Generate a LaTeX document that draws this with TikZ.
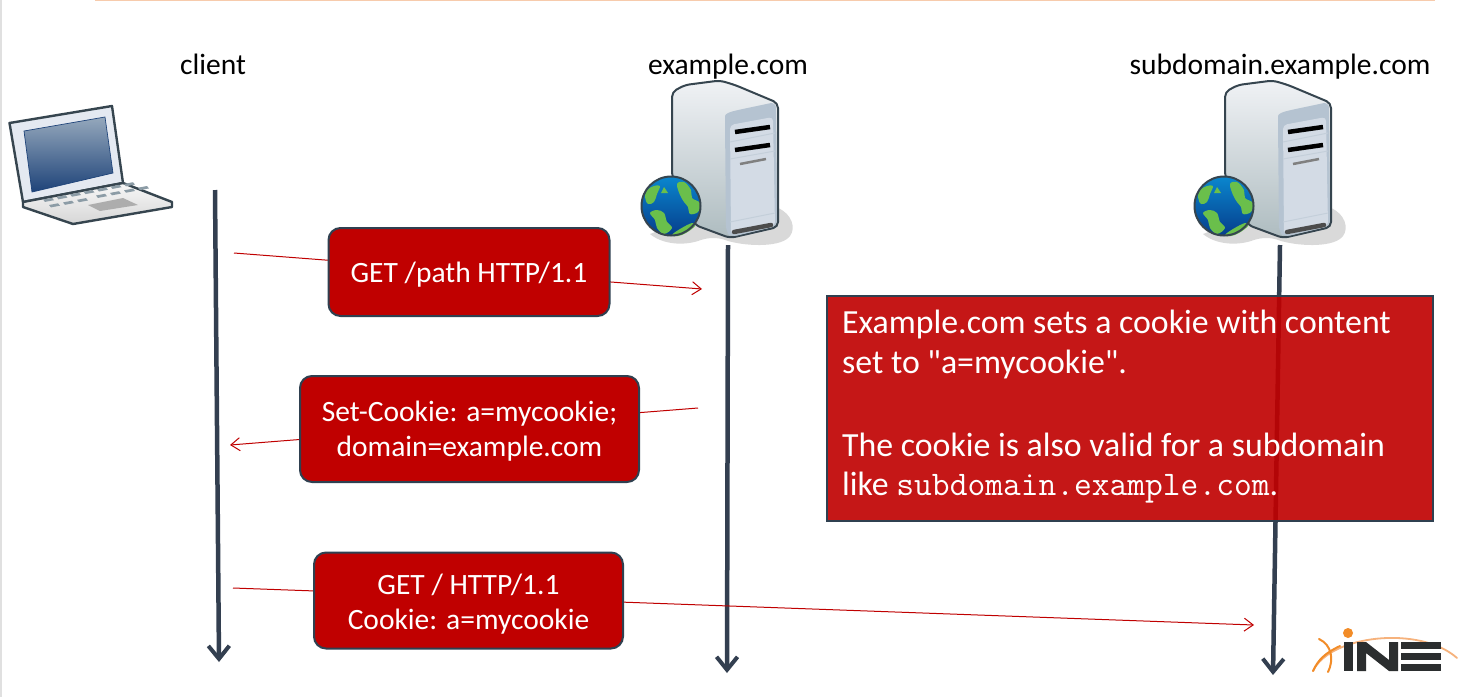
\documentclass[tikz,border=0pt]{standalone}
\usepackage{fontspec}
\setmainfont{Carlito}
\newfontfamily\plainquotes{Carlito}
\usetikzlibrary{arrows.meta}
\definecolor{lifeln}{HTML}{333F50}
\definecolor{msgred}{HTML}{C00000}
\definecolor{edgeblue}{HTML}{2F4050}
\definecolor{frameink}{HTML}{36454F}
\definecolor{oline}{HTML}{F7CBAC}
\definecolor{ineorange}{HTML}{F28C28}
\definecolor{inearc}{HTML}{F6B27C}
\definecolor{inedark}{HTML}{2B2E2F}
\definecolor{land}{HTML}{6ABF4B}
\definecolor{oceantop}{HTML}{0A86CE}
\definecolor{oceanlow}{HTML}{063E8C}
\definecolor{towertop}{HTML}{F0F2F5}
\definecolor{towerlow}{HTML}{AEBCC0}
\definecolor{panelback}{HTML}{B5C3D1}
\definecolor{panelface}{HTML}{D3DBE5}
\definecolor{lidface}{HTML}{E4E9F1}
\definecolor{screentop}{HTML}{95A8BC}
\definecolor{screenlow}{HTML}{1E4379}
\definecolor{keycap}{HTML}{8C9CA6}
\tikzset{
  x=1pt,y=-1pt,
  lifeline/.style={draw=lifeln,line width=4.5pt,-{Straight Barb[length=13pt,width=21pt,line width=4pt]}},
  message/.style={draw=msgred,line width=1pt,-{Straight Barb[length=9pt,width=13pt,line width=1pt]}},
  msgbox/.style={draw=edgeblue,line width=2pt,fill=msgred,rounded corners=12pt,text=white,align=center,font=\fontsize{29.5}{35}\selectfont,inner sep=0pt},
  actor/.style={font=\fontsize{29.5}{32}\selectfont,text=black,anchor=base},
  notebox/.style={draw=edgeblue,line width=2pt,fill=msgred,fill opacity=.91,draw opacity=1,text opacity=1,anchor=north west,inner sep=0pt,minimum width=606pt,minimum height=225pt},
  notetext/.style={text=white,anchor=base west,font=\plainquotes\fontsize{33.8}{38}\selectfont,inner sep=0pt},
  towerart/.pic={
    % ground shadow
    \fill[black!15] (778,208) .. controls (792,214) and (796,228) .. (790,236)
       .. controls (782,247) and (750,247) .. (728,241) .. controls (716,236) and (706,238) .. (698,241)
       .. controls (682,246) and (662,244) .. (650,234) -- (700,215) -- cycle;
    % tower body
    \shade[top color=towertop,bottom color=towerlow,draw=frameink,line width=2pt,rounded corners=5pt]
       (672,176) -- (672,92) -- (685,85) -- (720,80.5) -- (735,85) -- (778,103) -- (778,227) -- (730,238) -- (695,225) -- cycle;
    % front panel
    \fill[panelback,rounded corners=6pt] (725,122) .. controls (725,114) and (730,112) .. (738,110)
       -- (776,102) -- (777,226) -- (731,237) -- (726,232) -- cycle;
    \fill[panelface,rounded corners=4pt] (730,125) -- (773,117) -- (775,226) -- (731,235) -- cycle;
    \draw[black,line width=4.5pt] (735,132) -- (770,127);
    \draw[black,line width=4.5pt] (735,150) -- (770,145);
    \draw[panelback!80!white,line width=1pt] (730,142) -- (775,133) (730,159) -- (775,151) (730,222) -- (775,213);
    \draw[black!50,line width=2.5pt] (740,164) -- (766,159);
    \draw[black!70,line width=4.5pt,line cap=round] (734,232) -- (771,225);
    % globe with its land masses
    \shade[top color=oceantop,bottom color=oceanlow] (671,206) circle (29.5pt);
    \fill[land] plot[smooth cycle,tension=.6] coordinates {(677,184) (684,182) (691,190) (692,198) (700,203) (698,212) (690,214) (688,207) (684,202) (680,195)};
    \fill[land] plot[smooth cycle,tension=.6] coordinates {(647,190) (654,186) (660,186) (657,194) (654,202) (648,204) (645,197)};
    \fill[land] plot[smooth cycle,tension=.6] coordinates {(650,213) (657,210) (664,213) (667,222) (672,228) (664,234) (657,228) (655,220)};
    \fill[land] plot[smooth cycle,tension=.6] coordinates {(672,235) (680,229) (692,223) (695,226) (686,233) (678,236)};
    \fill[land] (664,187) -- (668,193) -- (661,193) -- cycle;
    \draw[frameink,line width=2pt] (671,206) circle (29.5pt);
  }
}
\begin{document}
\begin{tikzpicture}
\useasboundingbox (0,0) rectangle (1472,697);
% slide edge and title rule
\fill[white] (0,0) rectangle (1472,697);
\fill[black!12] (0,0) rectangle (2,697);
\draw[oline,line width=1.5pt] (95,0) -- (1435,0);

% laptop
\fill[lidface,draw=frameink,line width=2.4pt,line join=round] (9.5,123) -- (112,106) -- (123,183) -- (23,202) -- cycle;
\shade[top color=screentop,bottom color=screenlow,draw=screenlow,line width=.7pt] (24,131) -- (105,117) -- (113,173) -- (32,192) -- cycle;
\shade[top color=black!3,bottom color=black!16,draw=frameink,line width=2.4pt,line join=round]
  (23,202) -- (123,183) -- (172,202) -- (172,207) -- (73,224) -- (23,207) -- cycle;
\fill[black!32] (88,205) -- (123,198) -- (138,205) -- (100,211) -- cycle;
\foreach \i in {0,...,6}{
  \fill[keycap] (43+\i*13.5,199.5-\i*2.6) -- ++(9,-1.7) -- ++(2,2.4) -- ++(-9,1.7) -- cycle;
}
\foreach \i in {0,1,2}{
  \fill[keycap] (49+\i*14,205-\i*2.6) -- ++(9,-1.7) -- ++(2,2.4) -- ++(-9,1.7) -- cycle;
}
\foreach \i in {0,1,2,3}{
  \fill[keycap] (96+\i*14,195.5-\i*2.6) -- ++(9,-1.7) -- ++(2,2.4) -- ++(-9,1.7) -- cycle;
}

% servers
\path (0,0) pic {towerart};
\path (553,0) pic {towerart};

% named anchor points for the lifelines and messages
\coordinate (cTop) at (215,190);
\coordinate (cEnd) at (219,662);
\coordinate (eTop) at (728,245);
\coordinate (eEnd) at (727,673);
\coordinate (sTop) at (1280,245);
\coordinate (sEnd) at (1273,675);
\coordinate (m1a) at (234,253);
\coordinate (m1b) at (702,289);
\coordinate (m2a) at (698,408);
\coordinate (m2b) at (230,445);
\coordinate (m3a) at (233,588);
\coordinate (m3b) at (1254,625);

% lifelines
\draw[lifeline] (cTop) -- (cEnd);
\draw[lifeline] (eTop) -- (eEnd);
\draw[lifeline] (sTop) -- (sEnd);

% messages run behind their boxes
\draw[message] (m1a) -- (m1b);
\draw[message] (m2a) -- (m2b);
\draw[message] (m3a) -- (m3b);

\node[actor] (client) at (213,74) {client};
\node[actor] (origin) at (728,74) {example.com};
\node[actor] (subdom) at (1280,74) {subdomain.example.com};

% the struts set each label slightly below the centre of its box
\node[msgbox,minimum width=281pt,minimum height=88pt] (get) at (469,272) {\rule{0pt}{25pt}GET /path HTTP/1.1};
\node[msgbox,minimum width=339pt,minimum height=106pt] (set) at (469.5,429) {\rule{0pt}{25pt}Set-Cookie: a=mycookie;\\domain=example.com};
\node[msgbox,minimum width=309pt,minimum height=96pt] (req) at (468.5,600.5) {\rule{0pt}{28pt}GET / HTTP/1.1\\Cookie: a=mycookie};

\node[notebox] (note) at (826,295) {};
\node[notetext] (n1) at (842,333) {Example.com sets a cookie with content};
\node[notetext] (n2) at (842,373) {set to "a=mycookie".};
\node[notetext] (n3) at (842,456) {The cookie is also valid for a subdomain};
\node[notetext] (n4) at (842,495) {like {\ttfamily\fontsize{34.5}{38}\selectfont subdomain.example.com}.};

% logo
\draw[inearc,line width=1.8pt,line cap=round] (1313,671) .. controls (1330,635) and (1420,625) .. (1457,658);
\draw[ineorange,line width=2pt,line cap=round] (1313,671) .. controls (1318,660) and (1325,653) .. (1340,646);
\draw[ineorange,line width=2pt,line cap=round] (1319,639) .. controls (1332,645) and (1334,660) .. (1328,672);
\fill[ineorange] (1348,633) circle (5pt);
\fill[inedark] (1344,642) rectangle (1353,671);
\fill[inedark] (1357,671) -- (1357,642) -- (1366,642) -- (1389,660) -- (1389,642) -- (1398,642) -- (1398,671) -- (1389,671) -- (1366,653) -- (1366,671) -- cycle;
\fill[inedark] (1401,642) rectangle (1441,649);
\fill[inedark] (1401,653) rectangle (1441,660);
\fill[inedark] (1401,664) rectangle (1441,671);
\end{tikzpicture}
\end{document}
